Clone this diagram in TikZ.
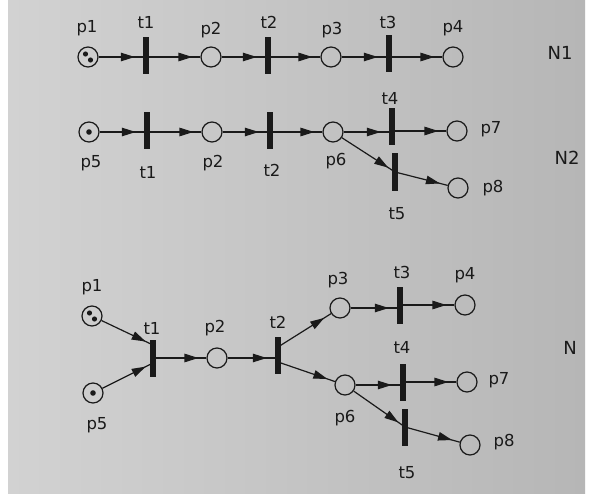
\documentclass[tikz,border=0pt]{standalone}
\usepackage{fontspec}
\setmainfont{DejaVu Sans}
\usetikzlibrary{arrows.meta,decorations.markings,calc}
\definecolor{ink}{HTML}{1A1A1A}
\definecolor{paperL}{HTML}{D2D2D2}
\definecolor{paperM}{HTML}{CDCDCD}
\definecolor{paperR}{HTML}{B6B6B6}

\begin{document}
\begin{tikzpicture}[x=1pt,y=-1pt,
  place/.style={circle,draw=ink,line width=1.2pt,minimum size=20pt,inner sep=0pt},
  trans/.style={rectangle,fill=ink,minimum width=6pt,minimum height=37pt,inner sep=0pt},
  lbl/.style={text=ink,font=\fontsize{16.5}{16.5}\selectfont,inner sep=0pt},
  netname/.style={text=ink,font=\fontsize{18}{18}\selectfont,inner sep=0pt},
  arc/.style={ink,line width=1.2pt,postaction={decorate},
    decoration={markings,mark=at position -8pt with {\arrow{Triangle[length=14pt,width=8.5pt]}}}},
  tok/.style={fill=ink}
]
% page and paper
\useasboundingbox (0,0) rectangle (591,497);
\fill[white] (0,0) rectangle (591,497);
\shade[left color=paperL,middle color=paperM,right color=paperR] (8,0) rectangle (585,493);

% ---------------- net N1 ----------------
\node[place] (p1a) at (88,57) {};
\node[trans] (t1a) at (146,56) {};
\node[place] (p2a) at (211,57) {};
\node[trans] (t2a) at (268,56) {};
\node[place] (p3a) at (331,57) {};
\node[trans] (t3a) at (389,54) {};
\node[place] (p4a) at (453,57) {};
\fill[tok] ($(p1a)+(-2.5,-3)$) circle (2.6pt);
\fill[tok] ($(p1a)+(2.5,3)$) circle (2.6pt);

\draw[arc] (p1a) -- (p1a -| t1a.west);
\draw[arc] (t1a.center |- p2a) -- (p2a);
\draw[arc] (p2a) -- (p2a -| t2a.west);
\draw[arc] (t2a.center |- p3a) -- (p3a);
\draw[arc] (p3a) -- (p3a -| t3a.west);
\draw[arc] (t3a.center |- p4a) -- (p4a);

\node[lbl] (lp1a) at (87,28) {p1};
\node[lbl] (lt1a) at (146,22) {t1};
\node[lbl] (lp2a) at (211,30) {p2};
\node[lbl] (lt2a) at (269,22) {t2};
\node[lbl] (lp3a) at (332,30) {p3};
\node[lbl] (lt3a) at (388,22) {t3};
\node[lbl] (lp4a) at (453,28) {p4};
\node[netname] (na) at (560,53) {N1};

% ---------------- net N2 ----------------
\node[place] (p5b) at (89,132) {};
\node[trans] (t1b) at (147,131) {};
\node[place] (p2b) at (212,132) {};
\node[trans] (t2b) at (270,131) {};
\node[place] (p6b) at (333,132) {};
\node[trans] (t4b) at (392,127) {};
\node[place] (p7b) at (457,131) {};
\node[trans] (t5b) at (395,172) {};
\node[place] (p8b) at (458,188) {};
\fill[tok] (p5b) circle (2.8pt);

\draw[arc] (p5b) -- (p5b -| t1b.west);
\draw[arc] (t1b.center |- p2b) -- (p2b);
\draw[arc] (p2b) -- (p2b -| t2b.west);
\draw[arc] (t2b.center |- p6b) -- (p6b);
\draw[arc] (p6b) -- (p6b -| t4b.west);
\draw[arc] (t4b.center |- p7b) -- (p7b);
\draw[arc] (p6b) -- (t5b.center);
\draw[arc] (t5b.center) -- (p8b);

\node[lbl] (lp5b) at (91,163) {p5};
\node[lbl] (lt1b) at (148,172) {t1};
\node[lbl] (lp2b) at (213,163) {p2};
\node[lbl] (lt2b) at (272,170) {t2};
\node[lbl] (lp6b) at (336,161) {p6};
\node[lbl] (lt4b) at (390,98) {t4};
\node[lbl] (lt5b) at (397,214) {t5};
\node[lbl] (lp7b) at (491,129) {p7};
\node[lbl] (lp8b) at (493,188) {p8};
\node[netname] (nb) at (567,158) {N2};

% ---------------- composed net N ----------------
\node[place] (p1c) at (92,316) {};
\node[place] (p5c) at (93,393) {};
\node[trans] (t1c) at (153,358) {};
\node[place] (p2c) at (217,358) {};
\node[trans] (t2c) at (278,355) {};
\node[place] (p3c) at (340,308) {};
\node[trans] (t3c) at (400,305) {};
\node[place] (p4c) at (465,305) {};
\node[place] (p6c) at (345,385) {};
\node[trans] (t4c) at (403,382) {};
\node[place] (p7c) at (467,382) {};
\node[trans] (t5c) at (405,427) {};
\node[place] (p8c) at (470,445) {};
\fill[tok] ($(p1c)+(-2.5,-3)$) circle (2.6pt);
\fill[tok] ($(p1c)+(2.5,3)$) circle (2.6pt);
\fill[tok] (p5c) circle (2.8pt);

\draw[arc] (p1c) -- ([yshift=13pt]t1c.center);
\draw[arc] (p5c) -- ([yshift=-5pt]t1c.center);
\draw[arc] (t1c.center |- p2c) -- (p2c);
\draw[arc] (p2c) -- (p2c -| t2c.west);
\draw[arc] ([yshift=8pt]t2c.center) -- (p3c);
\draw[arc] ([yshift=-7pt]t2c.center) -- (p6c);
\draw[arc] (p3c) -- (p3c -| t3c.west);
\draw[arc] (t3c.center |- p4c) -- (p4c);
\draw[arc] (p6c) -- (p6c -| t4c.west);
\draw[arc] (t4c.center |- p7c) -- (p7c);
\draw[arc] (p6c) -- (t5c.center);
\draw[arc] (t5c.center) -- (p8c);

\node[lbl] (lp1c) at (92,287) {p1};
\node[lbl] (lp5c) at (97,425) {p5};
\node[lbl] (lt1c) at (152,328) {t1};
\node[lbl] (lp2c) at (215,328) {p2};
\node[lbl] (lt2c) at (278,322) {t2};
\node[lbl] (lp3c) at (338,280) {p3};
\node[lbl] (lt3c) at (402,272) {t3};
\node[lbl] (lp4c) at (465,275) {p4};
\node[lbl] (lt4c) at (402,347) {t4};
\node[lbl] (lp6c) at (345,418) {p6};
\node[lbl] (lt5c) at (407,473) {t5};
\node[lbl] (lp7c) at (499,380) {p7};
\node[lbl] (lp8c) at (504,442) {p8};
\node[netname] (nc) at (570,348) {N};
\end{tikzpicture}
\end{document}
